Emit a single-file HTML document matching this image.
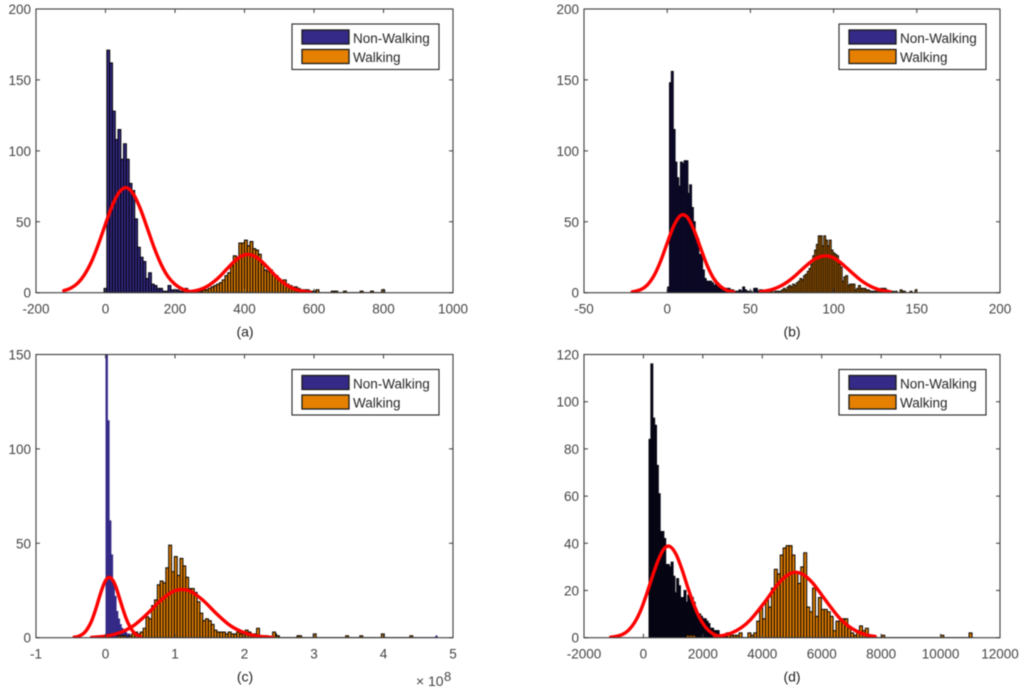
<!DOCTYPE html>
<html>
<head>
<meta charset="utf-8">
<title>Walking histograms</title>
<style>
html,body{margin:0;padding:0;background:#fff;width:1024px;height:692px;overflow:hidden}
svg{display:block;filter:blur(0.5px)}
text{font-family:"Liberation Sans",sans-serif}
</style>
</head>
<body>
<svg id="figure" xmlns="http://www.w3.org/2000/svg" width="1024" height="692" viewBox="0 0 1024 692"></svg>
<script>
// Panel (a)
const aXTicks = [-200, 0, 200, 400, 600, 800, 1000];
const aYTicks = [0, 50, 100, 150, 200];
const aNonWalkingStart = -4;
const aNonWalkingWidth = 8;
const aNonWalkingCounts = [3,171,162,128,108,115,94,105,94,77,72,52,32,25,22,10,14,6,5,3,3,1,1,5,2,2,2,1,1,3,1,1,1,1,1];
const aWalkingStart = 232;
const aWalkingWidth = 8;
const aWalkingCounts = [1,1,0,1,1,1,2,2,3,4,5,6,7,9,12,14,19,26,25,35,35,37,33,36,31,30,27,20,16,15,16,13,12,9,8,9,6,5,4,4,3,2,2,1,1,1];
const aTailX = [578,600,606,650,660,685,733,763,795];
const aTailCounts = [2,1,2,1,1,1,1,1,2];
const aNonWalkingCurveX = [-120,-100,-80,-60,-40,-20,0,20,40,60,80,100,120,140,160,180,200,220,240];
const aNonWalkingCurveY = [1.4,3.2,6.7,12.9,22,34.4,48.4,61.7,71,74,69.6,59.3,45.7,31.8,20,11.3,5.9,2.7,1.1];
const aWalkingCurveX = [230,250,270,290,310,330,350,370,390,410,430,450,470,490,510,530,550,570,590];
const aWalkingCurveY = [0.4,1,2.1,4.1,7.4,11.7,16.9,21.9,25.6,27,25.6,21.9,16.9,11.7,7.4,4.1,2.1,1,0.4];

// Panel (b)
const bXTicks = [-50, 0, 50, 100, 150, 200];
const bYTicks = [0, 50, 100, 150, 200];
const bNonWalkingStart = 0.3;
const bNonWalkingWidth = 1.1;
const bNonWalkingCounts = [4,148,156,115,92,81,75,92,91,93,93,70,76,60,50,38,38,27,27,16,10,8,8,8,7,5,6,4,3,4,3,3,3,3,2,2,1,1,1,2,1,4,2,1,1,1,0,3,3,1,2,2,1];
const bWalkingStart = 60;
const bWalkingWidth = 1.1;
const bWalkingCounts = [1,0,1,0,1,1,1,1,2,3,2,4,5,4,6,5,7,8,10,9,12,13,15,17,20,26,30,34,40,40,33,40,37,33,37,30,28,27,26,20,18,8,11,12,5,6,6,6,2,3,5,3,3,3,2,2,1,1,1,1,2,2,3,3,3,2];
const bTailX = [135,137,140,141,142,146,149];
const bTailCounts = [1,1,2,1,1,1,2];
const bNonWalkingCurveX = [-21,-16,-12,-8,-4,0,4,8,12,16,20,24,28,32,36,40];
const bNonWalkingCurveY = [0.6,2.1,5.4,11.9,22.1,35,47.3,54.4,53.3,44.5,31.7,19.2,9.9,4.4,1.6,0.5];
const bWalkingCurveX = [56,60,64,68,72,76,80,84,88,92,96,100,104,108,112,116,120,124,128,132,134];
const bWalkingCurveY = [0.7,1.4,2.6,4.6,7.4,11,15.3,19.5,23.2,25.4,26,24.5,21.4,17.3,13.1,9.1,5.9,3.5,1.9,1,0.7];

// Panel (c)
const cXTicks = [-1, 0, 1, 2, 3, 4, 5];
const cYTicks = [0, 50, 100, 150];
const cNonWalkingStart = 0.005;
const cNonWalkingWidth = 0.025;
const cNonWalkingCounts = [170,115,62,44,30,22,14,10,7,5,4,3,2,2,1,1,2,1,1,0,1,1,1];
const cWalkingStart = 0.175;
const cWalkingWidth = 0.0408;
const cWalkingCounts = [1,1,1,0,1,2,3,2,3,5,11,10,17,20,28,30,29,37,49,35,43,33,42,38,32,26,26,24,19,13,9,10,9,7,4,3,3,3,2,3,2,2,3,2,3,4,3,2,2,5,1,1,1,0,0,2,1];
const cTailX = [2.405,2.45,2.755,2.78,2.99,3.456,3.66,3.97,4.38];
const cTailCounts = [3,1,1,1,2,1,1,2,1];
const cNonWalkingTailX = [4.75];
const cNonWalkingTailCounts = [1];
const cNonWalkingCurveX = [-0.45,-0.4,-0.35,-0.3,-0.25,-0.2,-0.15,-0.1,-0.05,0,0.05,0.1,0.15,0.2,0.25,0.3,0.35,0.4,0.45,0.5];
const cNonWalkingCurveY = [0.3,0.6,1.4,2.8,5.3,8.9,14,20,25.8,30.2,32,30.7,26.9,21.1,15.2,9.9,5.9,3.1,1.5,0.7];
const cWalkingCurveX = [-0.2,0,0.2,0.4,0.6,0.8,1,1.2,1.4,1.6,1.8,2,2.2,2.4];
const cWalkingCurveY = [0.2,0.8,2.6,6.3,12.6,19.9,24.9,24.9,19.9,12.6,6.3,2.6,0.8,0.2];

// Panel (d)
const dXTicks = [-2000,0,2000,4000,6000,8000,10000,12000];
const dYTicks = [0,20,40,60,80,100,120];
const dNonWalkingStart = 190;
const dNonWalkingWidth = 62;
const dNonWalkingCounts = [84,116,93,90,73,61,45,45,42,31,31,30,32,26,19,25,22,17,17,20,15,18,16,17,15,12,10,10,9,8,8,7,6,4,4,3,3,3,1,1,1,1,2];
const dWalkingStart = 2826;
const dWalkingWidth = 98.8;
const dWalkingCounts = [2,1,1,1,2,0,0,2,1,2,7,13,8,16,13,21,29,27,35,38,39,39,35,28,23,30,36,13,11,21,9,17,12,12,11,9,3,7,7,8,8,4,2,1,3,5,3,4];
const dTailX = [1450,1550,1650,8022,10010,10960];
const dTailCounts = [1,1,1,1,1,2];
const dNonWalkingCurveX = [-1100,-900,-700,-500,-300,-100,100,300,500,700,900,1100,1300,1500,1700,1900,2100,2300,2500];
const dNonWalkingCurveY = [0.2,0.6,1.4,3.2,6.4,11.3,18.2,25.9,32.9,37.8,38.6,35.3,28.8,21,13.9,8.2,4.3,2,0.8];
const dWalkingCurveX = [2400,2700,3000,3300,3600,3900,4200,4500,4800,5100,5400,5700,6000,6300,6600,6900,7200,7500,7800];
const dWalkingCurveY = [0.5,1,2.2,4.3,7.6,12.1,17.1,22.3,26.1,27.7,26.6,23.1,18.1,13,8.3,4.9,2.6,1.2,0.5];

const NS = 'http://www.w3.org/2000/svg';
const figure = document.getElementById('figure');

function make(parent, tag, attrs, text) {
  const el = document.createElementNS(NS, tag);
  for (const k in attrs) el.setAttribute(k, attrs[k]);
  if (text !== undefined) el.textContent = text;
  parent.appendChild(el);
  return el;
}

function smoothPath(px, py) {
  let d = 'M' + px[0].toFixed(2) + ' ' + py[0].toFixed(2);
  for (let i = 0; i < px.length - 1; i++) {
    const i0 = Math.max(0, i - 1), i3 = Math.min(px.length - 1, i + 2);
    const c1x = px[i] + (px[i + 1] - px[i0]) / 6, c1y = py[i] + (py[i + 1] - py[i0]) / 6;
    const c2x = px[i + 1] - (px[i3] - px[i]) / 6, c2y = py[i + 1] - (py[i3] - py[i]) / 6;
    d += 'C' + c1x.toFixed(2) + ' ' + c1y.toFixed(2) + ' ' + c2x.toFixed(2) + ' ' + c2y.toFixed(2) + ' ' + px[i + 1].toFixed(2) + ' ' + py[i + 1].toFixed(2);
  }
  return d;
}

function drawPanel(p) {
  const g = make(figure, 'g', {});
  
  

  const xMin = p.xTicks[0], xMax = p.xTicks[p.xTicks.length - 1];
  const yMin = p.yTicks[0], yMax = p.yTicks[p.yTicks.length - 1];
  const X = v => p.left + (v - xMin) / (xMax - xMin) * (p.right - p.left);
  const Y = v => p.bottom - (v - yMin) / (yMax - yMin) * (p.bottom - p.top);

  const clip = make(g, 'clipPath', { id: 'clip-' + p.id });
  make(clip, 'rect', { x: p.left, y: p.top, width: p.right - p.left, height: p.bottom - p.top });

  const plot = make(g, 'g', { 'clip-path': 'url(#clip-' + p.id + ')' });
  
  

  function drawSeries(s) {
    const sg = make(plot, 'g', {});
    
    
    const xs = s.counts.map((c, i) => s.start + i * s.width);
    const tailX = s.tailX || [];
    const tailN = s.tailN || [];
    const lastX = tailX.length ? Math.max.apply(null, tailX) : xs[xs.length - 1] + s.width;
    const base = make(sg, 'line', { x1: X(s.start), x2: X(lastX), y1: Y(0), y2: Y(0), stroke: s.baseEdge, 'stroke-width': 1.3 });
    
    
    function bar(x0, n) {
      const x1 = x0 + s.width;
      const d = 'M' + X(x0) + ' ' + Y(0) + 'V' + Y(n) + 'H' + X(x1) + 'V' + Y(0) + 'Z';
      const b = make(sg, 'path', { d: d, fill: s.fill, stroke: s.edge, 'stroke-width': s.edgeWidth });
      
      
    }
    s.counts.forEach((n, i) => { if (n > 0) bar(xs[i], n); });
    tailX.forEach((x, i) => bar(x, tailN[i]));
  }

  p.series.forEach(drawSeries);

  p.curves.forEach(c => {
    const path = make(plot, 'path', {
      d: smoothPath(c.x.map(X), c.y.map(Y)),
      fill: 'none', stroke: '#ff0000', 'stroke-width': 3.4, 'stroke-linecap': 'round', 'stroke-linejoin': 'round'
    });
    
    
  });

  const frame = make(g, 'rect', { x: p.left, y: p.top, width: p.right - p.left, height: p.bottom - p.top, fill: 'none', stroke: '#3c3c3c', 'stroke-width': 1.1 });
  
  

  p.xTicks.forEach(v => {
    const x = X(v);
    make(g, 'path', { d: 'M' + x + ' ' + p.bottom + 'v-4M' + x + ' ' + p.top + 'v4', stroke: '#3c3c3c', 'stroke-width': 1, fill: 'none' });
    const t = make(g, 'text', { x: x, y: p.bottom + 21, 'text-anchor': 'middle', 'font-size': 13.5, fill: '#444' }, String(v));
    
    
  });
  p.yTicks.forEach(v => {
    const y = Y(v);
    make(g, 'path', { d: 'M' + p.left + ' ' + y + 'h4M' + p.right + ' ' + y + 'h-4', stroke: '#3c3c3c', 'stroke-width': 1, fill: 'none' });
    const t = make(g, 'text', { x: p.left - 5, y: y + 5, 'text-anchor': 'end', 'font-size': 13.5, fill: '#444' }, String(v));
    
    
  });

  const cap = make(g, 'text', { x: p.captionX, y: p.bottom + 44, 'text-anchor': 'middle', 'font-size': 14, fill: '#222' }, '(' + p.id + ')');
  
  

  const lg = make(g, 'g', {});
  
  
  const lx = p.legendX, ly = p.top + 15;
  make(lg, 'rect', { x: lx, y: ly, width: 147, height: 45.5, fill: '#fff', stroke: '#262626', 'stroke-width': 1.1 });
  const s1 = make(lg, 'rect', { x: lx + 10, y: ly + 6, width: 47, height: 14, fill: '#352a87', stroke: '#1a1a1a', 'stroke-width': 1.3 });
  
  
  const s2 = make(lg, 'rect', { x: lx + 10, y: ly + 25.5, width: 47, height: 14, fill: '#e68000', stroke: '#1a1a1a', 'stroke-width': 1.3 });
  
  
  const t1 = make(lg, 'text', { x: lx + 61, y: ly + 19, 'font-size': 13.5, fill: '#262626' }, 'Non-Walking');
  
  
  const t2 = make(lg, 'text', { x: lx + 61, y: ly + 38, 'font-size': 13.5, fill: '#262626' }, 'Walking');
  
  
}

const navy = '#352a87', orange = '#e68000', edge = '#05050f', edgeO = '#140d04';

drawPanel({
  id: 'a', left: 36, right: 453, top: 9, bottom: 292.7, captionX: 245, legendX: 292,
  xTicks: aXTicks, yTicks: aYTicks,
  series: [
    { name: 'non-walking', start: aNonWalkingStart, width: aNonWalkingWidth, counts: aNonWalkingCounts, fill: navy, edge: edge, baseEdge: edge, edgeWidth: 1.1 },
    { name: 'walking', start: aWalkingStart, width: aWalkingWidth, counts: aWalkingCounts, tailX: aTailX, tailN: aTailCounts, fill: orange, edge: edgeO, baseEdge: edgeO, edgeWidth: 1.2 }
  ],
  curves: [
    { name: 'non-walking', x: aNonWalkingCurveX, y: aNonWalkingCurveY },
    { name: 'walking', x: aWalkingCurveX, y: aWalkingCurveY }
  ]
});
drawPanel({
  id: 'b', left: 584, right: 1000, top: 9, bottom: 292.7, captionX: 792, legendX: 839,
  xTicks: bXTicks, yTicks: bYTicks,
  series: [
    { name: 'non-walking', start: bNonWalkingStart, width: bNonWalkingWidth, counts: bNonWalkingCounts, fill: '#140f4a', edge: edge, baseEdge: edge, edgeWidth: 1.1 },
    { name: 'walking', start: bWalkingStart, width: bWalkingWidth, counts: bWalkingCounts, tailX: bTailX, tailN: bTailCounts, fill: orange, edge: edgeO, baseEdge: edgeO, edgeWidth: 1.1 }
  ],
  curves: [
    { name: 'non-walking', x: bNonWalkingCurveX, y: bNonWalkingCurveY },
    { name: 'walking', x: bWalkingCurveX, y: bWalkingCurveY }
  ]
});
drawPanel({
  id: 'c', left: 36, right: 453, top: 354.5, bottom: 637.7, captionX: 245, legendX: 292,
  xTicks: cXTicks, yTicks: cYTicks,
  series: [
    { name: 'non-walking', start: cNonWalkingStart, width: cNonWalkingWidth, counts: cNonWalkingCounts, tailX: cNonWalkingTailX, tailN: cNonWalkingTailCounts, fill: navy, edge: navy, baseEdge: navy, edgeWidth: 0.6 },
    { name: 'walking', start: cWalkingStart, width: cWalkingWidth, counts: cWalkingCounts, tailX: cTailX, tailN: cTailCounts, fill: orange, edge: edgeO, baseEdge: edgeO, edgeWidth: 1.1 }
  ],
  curves: [
    { name: 'non-walking', x: cNonWalkingCurveX, y: cNonWalkingCurveY },
    { name: 'walking', x: cWalkingCurveX, y: cWalkingCurveY }
  ]
});
drawPanel({
  id: 'd', left: 584, right: 1000, top: 354.5, bottom: 637.7, captionX: 792, legendX: 839,
  xTicks: dXTicks, yTicks: dYTicks,
  series: [
    { name: 'non-walking', start: dNonWalkingStart, width: dNonWalkingWidth, counts: dNonWalkingCounts, fill: '#08061c', edge: edge, baseEdge: edge, edgeWidth: 1.1 },
    { name: 'walking', start: dWalkingStart, width: dWalkingWidth, counts: dWalkingCounts, tailX: dTailX, tailN: dTailCounts, fill: orange, edge: edgeO, baseEdge: edgeO, edgeWidth: 1.1 }
  ],
  curves: [
    { name: 'non-walking', x: dNonWalkingCurveX, y: dNonWalkingCurveY },
    { name: 'walking', x: dWalkingCurveX, y: dWalkingCurveY }
  ]
});

const expGroup = make(figure, 'g', {});


make(expGroup, 'text', { x: 416, y: 686, 'font-size': 14, fill: '#444' }, '×');
make(expGroup, 'text', { x: 428, y: 686, 'font-size': 14, fill: '#444' }, '10');
make(expGroup, 'text', { x: 444, y: 681, 'font-size': 13, fill: '#444' }, '8');
</script>
</body>
</html>
